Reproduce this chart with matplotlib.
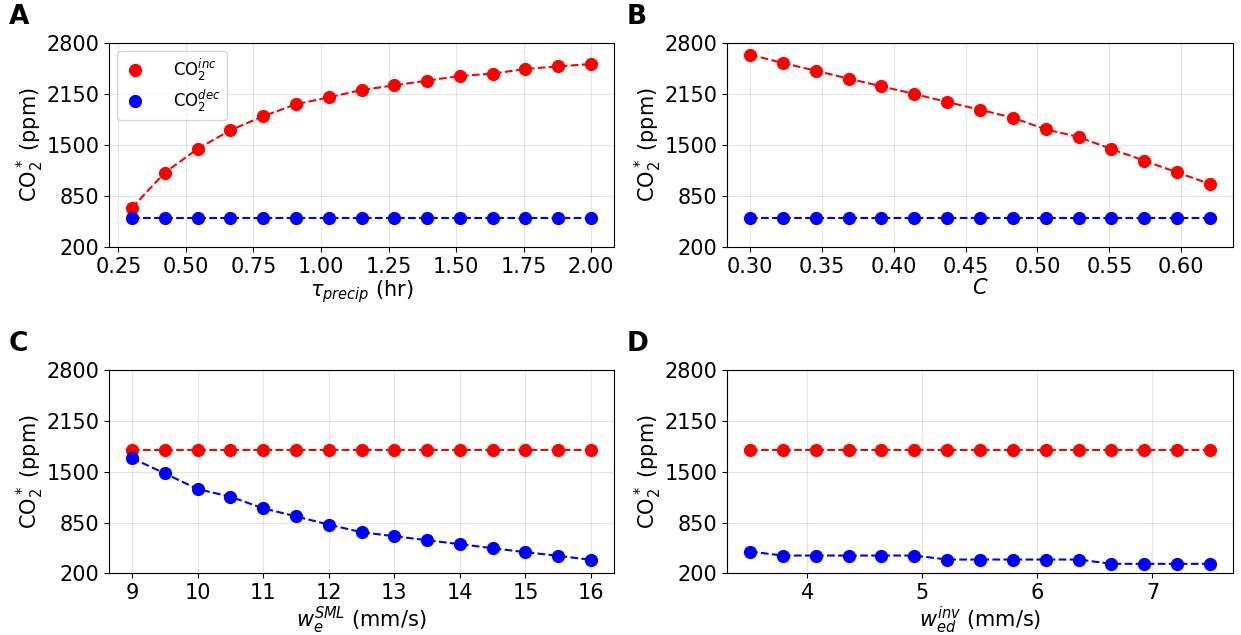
import matplotlib
matplotlib.use('Agg')
from matplotlib import pyplot as plt
from matplotlib.ticker import MultipleLocator
import numpy as np

# x values of each sensitivity sweep
tau_precip = np.linspace(0.3, 2.0, 15)
c_frac = np.linspace(0.30, 0.62, 15)
we_sml = np.linspace(9, 16, 15)
wed_inv = np.linspace(3.5, 7.5, 15)

# CO2* thresholds (ppm)
a_inc = [700, 1147, 1449, 1688, 1866, 2019, 2107, 2201, 2260, 2320, 2380, 2409, 2469, 2502, 2532]
a_dec = [574] * 15
b_inc = [2651, 2545, 2447, 2346, 2248, 2150, 2048, 1950, 1848, 1700, 1602, 1449, 1300, 1152, 1003]
b_dec = [574] * 15
c_inc = [1780] * 15
c_dec = [1674, 1479, 1279, 1181, 1033, 930, 825, 727, 676, 625, 574, 523, 472, 425, 374]
d_inc = [1778] * 15
d_dec = [480, 429, 429, 429, 429, 429, 378, 378, 378, 378, 378, 323, 323, 323, 323]

panels = [
    ('A', tau_precip, a_inc, a_dec, r'$\tau_{precip}$ (hr)'),
    ('B', c_frac, b_inc, b_dec, r'$C$'),
    ('C', we_sml, c_inc, c_dec, r'$w_e^{SML}$ (mm/s)'),
    ('D', wed_inv, d_inc, d_dec, r'$w_{ed}^{inv}$ (mm/s)'),
]

fig = plt.figure(figsize=(12.41, 6.35), dpi=100)
boxes = [
    [0.0878, 0.611, 0.407, 0.3213],
    [0.5858, 0.611, 0.4077, 0.3213],
    [0.0878, 0.0969, 0.407, 0.3204],
    [0.5858, 0.0969, 0.4077, 0.3204],
]

for (letter, x, inc, dec, xlabel), box in zip(panels, boxes):
    ax = fig.add_axes(box)
    ax.plot(x, inc, 'o--', color='red', ms=8.5, lw=1.5, label=r'CO$_2^{inc}$')
    ax.plot(x, dec, 'o--', color='blue', ms=8.5, lw=1.5, label=r'CO$_2^{dec}$')
    ax.set_ylim(200, 2800)
    ax.set_yticks([200, 850, 1500, 2150, 2800])
    if letter == 'D':
        ax.xaxis.set_major_locator(MultipleLocator(1))
    ax.grid(True, color='gray', alpha=0.2)
    ax.tick_params(labelsize=15)
    ax.set_xlabel(xlabel, fontsize=15, labelpad=1)
    ax.set_ylabel(r'CO$_2^*$ (ppm)', fontsize=15, labelpad=0)
    fig.text(box[0] - 0.081, box[1] + box[3] + 0.02, letter, fontsize=19,
             fontweight='bold', va='bottom', ha='left')
    if letter == 'A':
        leg = ax.legend(loc='upper left', fontsize=12, handlelength=1.4,
                        handletextpad=1.6, borderpad=0.35, labelspacing=0.25,
                        borderaxespad=0.5)
        for h in leg.get_lines():
            h.set_linestyle('None')

plt.savefig('out.png')
